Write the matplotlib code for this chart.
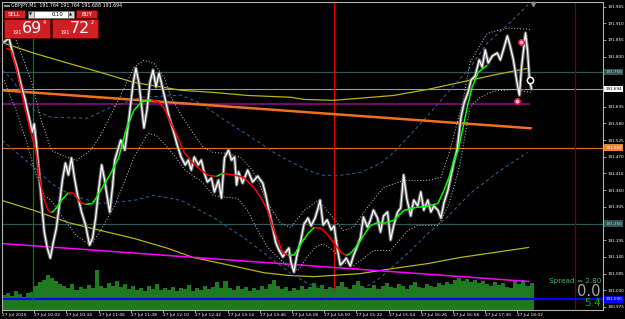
import numpy as np
import matplotlib.pyplot as plt
import matplotlib.transforms as mtransforms
from matplotlib.patches import Rectangle
from matplotlib.collections import LineCollection

# ---- data: minutes after 09:30 on 27 Jul 2015, GBPJPY M1 ----
close_t = [2, 7, 11, 15, 19, 23, 27, 30, 32, 34,
           37, 40, 42, 45, 48, 51, 54, 57, 60, 63,
           66, 69, 72, 75, 79, 83, 87, 90, 93, 96,
           99, 102, 105, 107, 110, 112, 115, 118, 122, 126,
           130, 133, 136, 138, 141, 144, 147, 150, 153, 156,
           160, 163, 166, 170, 174, 178, 182, 185, 188, 191,
           195, 198, 201, 204, 208, 211, 215, 218, 221, 225,
           228, 231, 233, 235, 239, 244, 249, 254, 259, 262,
           265, 269, 272, 275, 279, 282, 285, 287, 290, 293,
           297, 300, 304, 307, 311, 314, 316, 319, 323, 327,
           330, 333, 336, 339, 342, 346, 349, 353, 356, 359,
           363, 366, 369, 373, 376, 379, 383, 386, 389, 393,
           396, 399, 402, 406, 409, 413, 416, 419, 423, 426,
           429, 433, 436, 439, 443, 446, 449, 452, 454, 456,
           459, 463, 466, 470, 474, 477, 480, 483, 487, 492,
           495, 498, 502, 505, 508, 512, 514, 516, 519, 520,
           522, 524, 526]
close_p = [191.848, 191.861, 191.805, 191.762, 191.706, 191.657, 191.598, 191.551, 191.578, 191.518,
           191.410, 191.294, 191.222, 191.169, 191.136, 191.189, 191.235, 191.311, 191.393, 191.449,
           191.410, 191.466, 191.400, 191.344, 191.288, 191.245, 191.179, 191.202, 191.268, 191.360,
           191.443, 191.393, 191.327, 191.288, 191.377, 191.459, 191.492, 191.525, 191.492, 191.591,
           191.706, 191.762, 191.713, 191.657, 191.565, 191.624, 191.716, 191.756, 191.700, 191.746,
           191.690, 191.647, 191.601, 191.558, 191.509, 191.469, 191.443, 191.459, 191.426, 191.469,
           191.443, 191.459, 191.416, 191.387, 191.400, 191.354, 191.393, 191.334, 191.466, 191.492,
           191.459, 191.469, 191.377, 191.420, 191.383, 191.426, 191.387, 191.406, 191.383, 191.344,
           191.294, 191.235, 191.186, 191.163, 191.140, 191.156, 191.169, 191.123, 191.090, 191.146,
           191.196, 191.248, 191.268, 191.242, 191.268, 191.301, 191.327, 191.245, 191.262, 191.229,
           191.242, 191.169, 191.113, 191.123, 191.136, 191.110, 191.143, 191.176, 191.202, 191.271,
           191.238, 191.262, 191.294, 191.268, 191.222, 191.275, 191.288, 191.196, 191.242, 191.288,
           191.301, 191.410, 191.334, 191.275, 191.327, 191.308, 191.354, 191.294, 191.327, 191.288,
           191.308, 191.294, 191.268, 191.318, 191.360, 191.406, 191.453, 191.492, 191.548, 191.601,
           191.647, 191.683, 191.723, 191.736, 191.789, 191.766, 191.822, 191.779, 191.802, 191.812,
           191.789, 191.822, 191.868, 191.832, 191.789, 191.706, 191.673, 191.762, 191.848, 191.878,
           191.822, 191.722, 191.694]

# trend line (green when rising, red when falling)
trend_t = [4, 9, 14, 19, 24, 29, 34, 37, 41, 46, 49, 52, 59, 66, 71, 78, 83, 90, 98, 108,
           116, 123, 131, 138, 148, 156, 161, 168, 175, 181, 190, 198, 205, 213, 219, 232, 240, 250, 257, 264,
           269, 274, 279, 284, 290, 297, 304, 310, 317, 324, 330, 337, 342, 346, 353, 359, 366, 373, 381, 389,
           399, 411, 421, 433, 439, 444, 449, 453, 458, 463, 467, 473, 482]
trend_p = [191.828, 191.821, 191.765, 191.689, 191.613, 191.547, 191.484, 191.402, 191.336, 191.293,
           191.286, 191.293, 191.326, 191.352, 191.349, 191.319, 191.313, 191.316, 191.359, 191.415,
           191.468, 191.557, 191.623, 191.649, 191.659, 191.649, 191.630, 191.580, 191.531, 191.484,
           191.448, 191.425, 191.409, 191.405, 191.415, 191.409, 191.402, 191.369, 191.336, 191.293,
           191.237, 191.194, 191.154, 191.145, 191.145, 191.184, 191.217, 191.237, 191.234, 191.211,
           191.184, 191.154, 191.145, 191.151, 191.178, 191.210, 191.243, 191.253, 191.253, 191.260,
           191.293, 191.303, 191.306, 191.316, 191.359, 191.402, 191.458, 191.491, 191.567, 191.646,
           191.699, 191.748, 191.772]

# short bands (white dotted)
band_up_t = [2, 14, 29, 39, 49, 59, 74, 88, 98, 108, 118, 131, 141, 151, 161, 168, 178, 190, 200, 210,
             224, 237, 249, 257, 264, 277, 287, 300, 314, 323, 339, 349, 363, 379, 399, 423, 436, 445, 458, 465,
             482, 502, 525]
band_up_p = [191.920, 191.854, 191.722, 191.590, 191.491, 191.475, 191.458, 191.491, 191.541, 191.607,
             191.673, 191.765, 191.788, 191.778, 191.732, 191.666, 191.607, 191.547, 191.501, 191.484,
             191.481, 191.468, 191.425, 191.369, 191.316, 191.250, 191.237, 191.293, 191.326, 191.293,
             191.227, 191.237, 191.303, 191.369, 191.392, 191.392, 191.402, 191.491, 191.656, 191.781,
             191.877, 191.894, 191.890]
band_lo_t = [2, 14, 24, 34, 42, 49, 59, 74, 88, 98, 111, 121, 131, 145, 153, 161, 171, 182, 197, 210,
             224, 234, 244, 254, 264, 274, 284, 294, 304, 311, 319, 329, 339, 349, 359, 369, 386, 403, 413, 433,
             438, 445, 450, 455, 465, 475, 488, 508, 525]
band_lo_p = [191.722, 191.623, 191.524, 191.408, 191.342, 191.326, 191.276, 191.210, 191.178, 191.227,
             191.303, 191.382, 191.468, 191.547, 191.541, 191.514, 191.475, 191.425, 191.392, 191.342,
             191.336, 191.333, 191.293, 191.227, 191.171, 191.138, 191.111, 191.095, 191.144, 191.171,
             191.184, 191.161, 191.121, 191.111, 191.135, 191.161, 191.161, 191.227, 191.244, 191.244,
             191.270, 191.326, 191.382, 191.448, 191.633, 191.666, 191.686, 191.692, 191.682]

# long bands (blue dashed)
long_up_t = [0, 9, 32, 49, 85, 108, 138, 178, 197, 217, 237, 257, 270, 284, 304, 319, 336, 356, 376, 389,
             416, 442, 465, 482, 502, 525]
long_up_p = [191.755, 191.729, 191.623, 191.600, 191.597, 191.633, 191.666, 191.673, 191.646, 191.600,
             191.557, 191.514, 191.484, 191.458, 191.425, 191.409, 191.409, 191.418, 191.448, 191.484,
             191.580, 191.679, 191.765, 191.844, 191.904, 191.979]
long_lo_t = [0, 12, 32, 49, 69, 98, 131, 151, 178, 210, 244, 270, 287, 304, 323, 349, 356, 376, 406, 423,
             442, 465, 495, 522]
long_lo_p = [191.524, 191.491, 191.435, 191.382, 191.343, 191.316, 191.326, 191.343, 191.326, 191.270,
             191.194, 191.128, 191.085, 191.052, 191.029, 191.019, 191.029, 191.072, 191.161, 191.217,
             191.270, 191.349, 191.425, 191.484]

# moving averages (yellow)
ma_slow_t = [2, 32, 66, 98, 131, 178, 210, 244, 287, 300, 329, 356, 389, 423, 455, 488, 523]
ma_slow_p = [191.844, 191.811, 191.778, 191.748, 191.715, 191.689, 191.682, 191.672, 191.666, 191.659,
             191.656, 191.663, 191.672, 191.692, 191.715, 191.739, 191.762]
ma_low_t = [0, 32, 66, 98, 131, 165, 190, 227, 260, 284, 310, 343, 356, 389, 423, 455, 488, 523]
ma_low_p = [191.326, 191.293, 191.253, 191.227, 191.201, 191.168, 191.138, 191.112, 191.088, 191.079,
            191.075, 191.082, 191.085, 191.102, 191.118, 191.138, 191.154, 191.171]

# trend lines
orange_t = [0, 525]
orange_p = [191.689, 191.564]
magenta_t = [0, 523]
magenta_p = [191.184, 191.059]
purple_t = [0, 523]
purple_p = [191.643, 191.643]

# horizontal levels
level_teal = [191.750, 191.250]
level_orange = 191.500
level_blue = 191.000
bid = 191.694

# vertical markers (minutes)
green_vline = 31
red_vline = 330
darkred_vline = 569

# signal dots
sig_t = [512, 516]
sig_p = [191.653, 191.848]
last_t, last_p = 524, 191.722

# tick volume, 4 minute steps from t=2
vol = [150, 170, 140, 190, 160, 130, 170, 180,
       240, 280, 300, 350, 320, 290, 260,
       240, 220, 260, 200, 230, 210, 250, 220,
       400,
       240, 220, 270, 240, 290, 230, 260, 210, 240,
       200, 220, 190, 240, 210, 260, 200, 220,
       200, 230, 190, 220, 210, 250, 190, 220, 200, 240, 210, 230, 280, 220,
       290, 220, 200, 240, 210, 230, 190, 220, 200, 240, 210, 260, 300,
       240, 210, 230, 190, 220, 200, 240, 210, 230, 270, 220, 250, 210, 230, 220,
       240, 280, 230, 210, 250, 290, 240, 220,
       220, 250, 210, 240, 270, 230, 220, 260, 240, 210, 250, 280, 230, 220, 260, 240, 230, 270, 250, 280, 260,
       300, 320, 290, 310, 280, 300, 270, 290,
       260, 240, 280, 250, 270, 230, 220, 290, 260, 300, 240, 270]
vol_t = [2 + 4 * i for i in range(len(vol))]

tick_t = [32 * i for i in range(17)]
tick_labels = ['27 Jul 2015', '27 Jul 10:02', '27 Jul 10:34', '27 Jul 11:06', '27 Jul 11:38',
               '27 Jul 12:10', '27 Jul 12:42', '27 Jul 13:14', '27 Jul 13:46', '27 Jul 14:18',
               '27 Jul 14:50', '27 Jul 15:22', '27 Jul 15:54', '27 Jul 16:26', '27 Jul 16:58',
               '27 Jul 17:30', '27 Jul 18:02']
price_ticks = [190.975, 191.030, 191.085, 191.140, 191.195, 191.305, 191.360, 191.415,
               191.470, 191.525, 191.580, 191.635, 191.800, 191.855, 191.910, 191.965]

W, H = 625, 319
fig = plt.figure(figsize=(W / 100, H / 100), dpi=100, facecolor='black')
rect = [2 / W, 9 / H, 601 / W, 308 / H]
xlim = (0, 597)
ylim = (190.965, 191.980)

# volume underneath
axv = fig.add_axes(rect, facecolor='black')
axv.bar(vol_t, vol, width=4, color='#1f7a1f', linewidth=0)
axv.set_xlim(xlim)
axv.set_ylim(0, 3080)
axv.axis('off')

ax = fig.add_axes(rect, facecolor='none')
ax.set_xlim(xlim)
ax.set_ylim(ylim)

for lv in level_teal:
    ax.axhline(lv, color='#2f5555', lw=0.9, zorder=1)
ax.axhline(level_orange, color='#d0701e', lw=0.9, zorder=1)
ax.axhline(level_blue, color='#0000ff', lw=1.5, zorder=1)
ax.axhline(bid, color='#9a9a9a', lw=0.8, zorder=1)
ax.plot(purple_t, purple_p, color='#6e0a6e', lw=1.5, zorder=1)

ax.axvline(green_vline, ymax=0.883, color='#008000', lw=0.9, zorder=1)
ax.axvline(red_vline, ymin=0.07, color='#e00000', lw=1.0, zorder=1)
ax.axvline(darkred_vline, color='#7a0000', lw=0.9, zorder=1)

ax.plot(ma_slow_t, ma_slow_p, color='#b4b414', lw=0.9, zorder=2)
ax.plot(ma_low_t, ma_low_p, color='#b4b414', lw=0.9, zorder=2)
ax.plot(long_up_t, long_up_p, color='#285a88', lw=0.8, ls=(0, (3, 2.5)), zorder=2)
ax.plot(long_lo_t, long_lo_p, color='#285a88', lw=0.8, ls=(0, (3, 2.5)), zorder=2)
ax.plot(orange_t, orange_p, color='#f07020', lw=1.8, zorder=2)
ax.plot(magenta_t, magenta_p, color='#ff00ff', lw=1.1, zorder=2)
ax.plot(band_up_t, band_up_p, color='#c8c8c8', lw=0.7, ls=(0, (1, 2)), zorder=3)
ax.plot(band_lo_t, band_lo_p, color='#c8c8c8', lw=0.7, ls=(0, (1, 2)), zorder=3)

# price
ax.plot(close_t, close_p, color='#6e6e6e', lw=2.4, zorder=4)
ax.plot(close_t, close_p, color='white', lw=0.9, zorder=5)

# coloured trend line
pts = np.column_stack([trend_t, trend_p])
segs = np.stack([pts[:-1], pts[1:]], axis=1)
cols = ['#00ff00' if b >= a else '#ff0000' for a, b in zip(trend_p[:-1], trend_p[1:])]
ax.add_collection(LineCollection(segs, colors=cols, linewidths=1.1, zorder=6))

ax.plot([sig_t[0], last_t], [sig_p[0], last_p], color='#a00000', lw=0.7, ls=':', zorder=6)
ax.plot(sig_t, sig_p, 'o', ms=4, mfc='#ffb0c0', mec='#e0103c', mew=1.1, zorder=7)
ax.plot(last_t, last_p, 'o', ms=4.5, mfc='black', mec='white', mew=1.1, zorder=7)
ax.plot(527, 191.975, 'v', ms=3, color='#8a8a8a', zorder=7, clip_on=False)

# axes styling
for s in ax.spines.values():
    s.set_color('#b0b0b0')
    s.set_linewidth(0.8)
ax.yaxis.tick_right()
ax.set_yticks(price_ticks)
ax.set_yticklabels([f'{v:.3f}' for v in price_ticks])
ax.set_xticks(tick_t)
ax.set_xticklabels(tick_labels, ha='left')
ax.tick_params(axis='y', labelsize=3.0, colors='#b0b0b0', labelcolor='white', length=2, width=0.6, pad=1)
ax.tick_params(axis='x', labelsize=3.2, colors='#b0b0b0', labelcolor='white', length=2, width=0.6, pad=0.5)

# price label boxes on the axis
tr = mtransforms.blended_transform_factory(ax.transAxes, ax.transData)
boxes = [(level_teal[0], '#2f5555', '#c8c8c8'), (bid, 'white', 'black'),
         (level_orange, '#e8853a', 'white'), (level_teal[1], '#2f5555', '#c8c8c8'),
         (level_blue, '#0000ff', 'white')]
for lv, fc, tc in boxes:
    ax.text(1.004, lv, f'{lv:.3f}', transform=tr, ha='left', va='center', fontsize=3.0, color=tc,
            bbox=dict(boxstyle='square,pad=0.3', fc=fc, ec='none'), clip_on=False, zorder=10)

# overlay in pixel coordinates for the trading panel and texts
ui = fig.add_axes([0, 0, 1, 1], facecolor='none')
ui.set_xlim(0, W)
ui.set_ylim(H, 0)
ui.axis('off')

ui.text(11, 5.5, 'GBPJPY,M1  191.764 191.764 191.688 191.694', color='white', fontsize=3.4, va='center')
ui.plot([4.5, 8.5], [5.5, 5.5], color='#909090', lw=1.5)

red, dark = '#cf1e24', '#6a0000'
for x0, x1, lab in [(4, 25, 'SELL'), (76, 97, 'BUY')]:
    ui.add_patch(Rectangle((x0, 10), x1 - x0, 8, fc=red, ec=dark, lw=0.5))
    ui.text((x0 + x1) / 2, 14.2, lab, color='white', fontsize=4, ha='center', va='center')
ui.add_patch(Rectangle((27.5, 10.5), 6, 7, fc='#d8d8d8', ec='#707070', lw=0.4))
ui.add_patch(Rectangle((33.5, 10.5), 34, 7, fc='white', ec='#707070', lw=0.4))
ui.add_patch(Rectangle((67.5, 10.5), 6, 7, fc='#d8d8d8', ec='#707070', lw=0.4))
ui.text(30.5, 14.2, '▼', fontsize=2.8, ha='center', va='center', color='black')
ui.text(70.5, 14.2, '▲', fontsize=2.8, ha='center', va='center', color='black')
ui.text(63, 14.2, '0.10', fontsize=3.8, ha='right', va='center', color='black')

for x0, big, sup in [(4, '69', '4'), (52, '72', '2')]:
    ui.add_patch(Rectangle((x0, 19), 46, 18.5, fc=red, ec=dark, lw=0.5))
    ui.text(x0 + 8.5, 32, '191', color='white', fontsize=3.6, ha='left', va='center')
    ui.text(x0 + 17.5, 28.5, big, color='white', fontsize=11.5, ha='left', va='center')
    ui.text(x0 + 39, 23, sup, color='white', fontsize=3.6, ha='left', va='center')

ui.text(601, 281, 'Spread = 2.80', color='#3cb371', fontsize=5.2, ha='right', va='center')
ui.text(601, 291.5, '0.0', color='#a8a8a8', fontsize=10.5, ha='right', va='center')
ui.text(601, 303, '5.4', color='#00b000', fontsize=7.5, ha='right', va='center')

fig.savefig('out.png', dpi=100, facecolor='black')
